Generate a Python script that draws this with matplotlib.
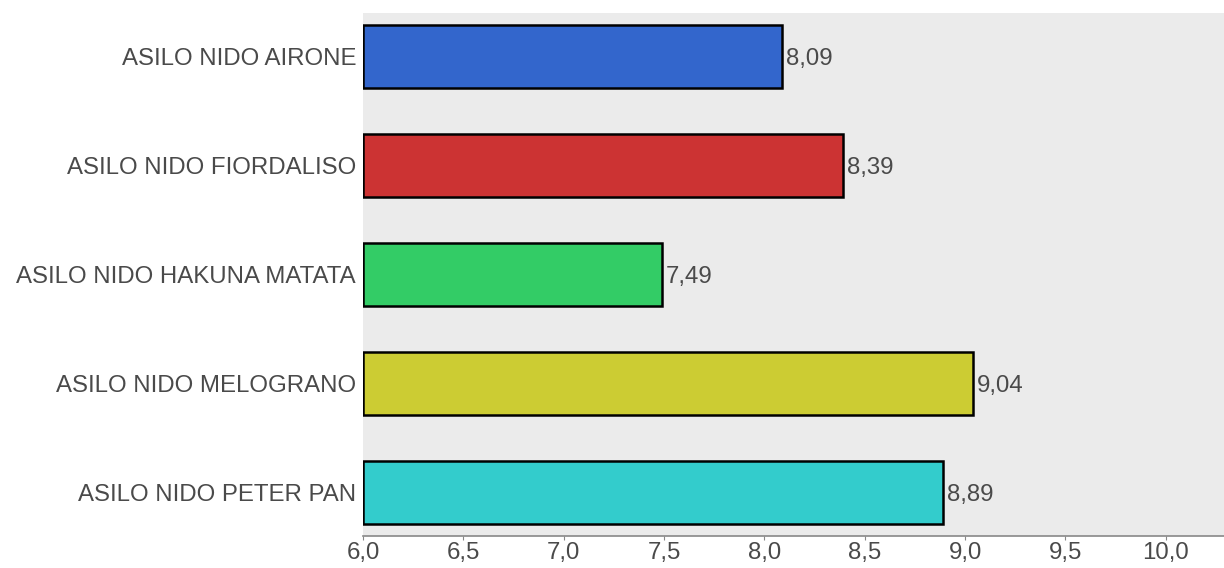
import matplotlib
matplotlib.use("Agg")
import matplotlib.pyplot as plt

# data
labels = ["ASILO NIDO AIRONE", "ASILO NIDO FIORDALISO", "ASILO NIDO HAKUNA MATATA",
          "ASILO NIDO MELOGRANO", "ASILO NIDO PETER PAN"]
values = [8.09, 8.39, 7.49, 9.04, 8.89]
bar_colors = ["#3366cc", "#cc3333", "#33cc66", "#cccc33", "#33cccc"]
xticks = [6.0, 6.5, 7.0, 7.5, 8.0, 8.5, 9.0, 9.5, 10.0]

plt.rcParams['font.family'] = ['Liberation Sans', 'DejaVu Sans']
txt_col = "#4a4a4a"
fs = 17.3

fig = plt.figure(figsize=(12.24, 5.68), dpi=100)
ax = fig.add_axes([363 / 1224, 32 / 568, 861 / 1224, 523 / 568])
ax.set_facecolor("#ebebeb")

y = list(range(len(labels)))
base = 6.0
ax.barh(y, [v - base for v in values], left=base, height=0.58,
        color=bar_colors, edgecolor="black", linewidth=1.8)

for yi, v in zip(y, values):
    ax.text(v + 0.02, yi + 0.02, ("%.2f" % v).replace(".", ","), va="center", ha="left",
            fontsize=fs, color=txt_col)

ax.set_xlim(6.0, 10.29)
ax.set_ylim(4.4, -0.4)
ax.set_yticks(y)
ax.set_yticklabels(labels, fontsize=fs, color=txt_col)
ax.set_xticks(xticks)
ax.set_xticklabels([("%.1f" % t).replace(".", ",") for t in xticks], fontsize=fs, color=txt_col)
ax.tick_params(axis="y", length=0, pad=5)
ax.tick_params(axis="x", length=3, color="#888888", pad=1)

for s in ["top", "right", "left"]:
    ax.spines[s].set_visible(False)
ax.spines["bottom"].set_color("#888888")
ax.spines["bottom"].set_linestyle((0, (1, 1)))
ax.spines["bottom"].set_linewidth(1.2)

fig.savefig("out.png", dpi=100)
